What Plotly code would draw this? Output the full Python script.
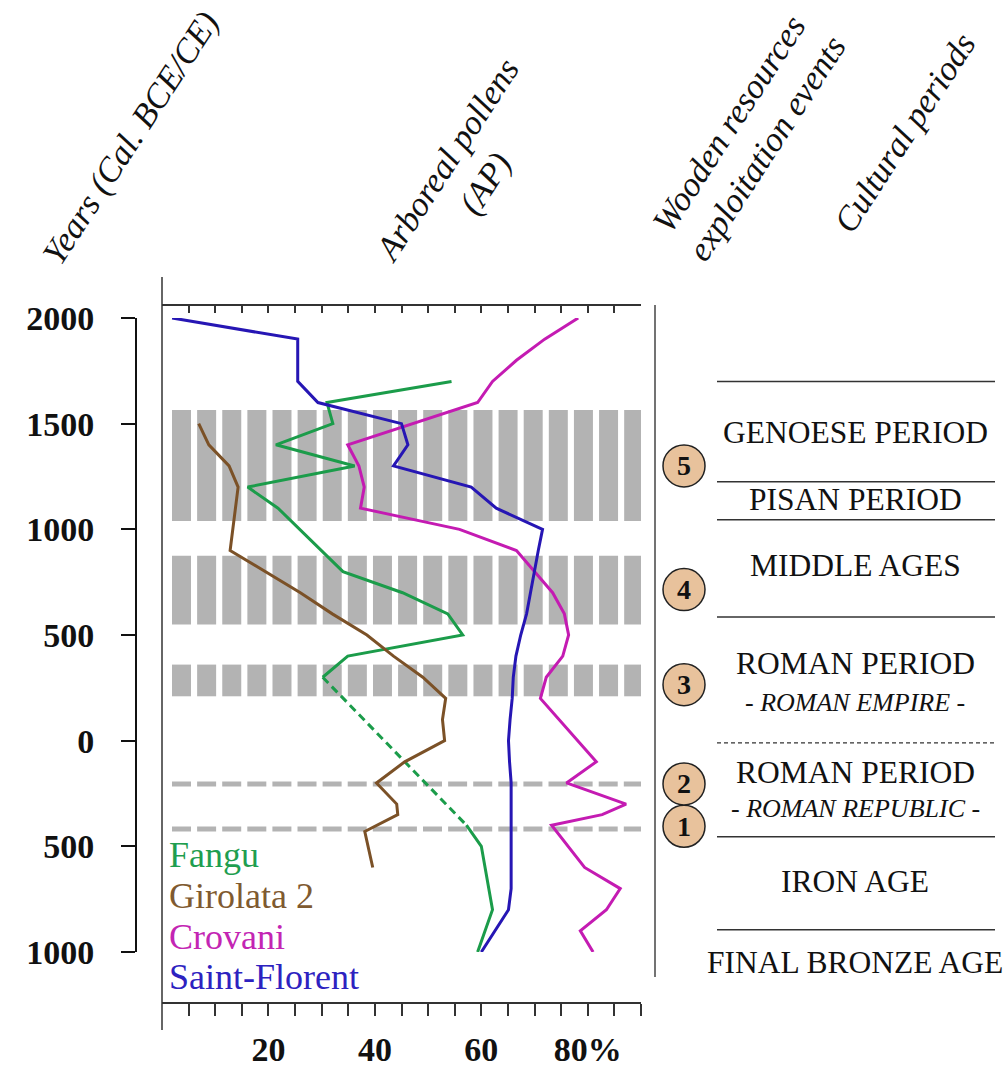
import plotly.graph_objects as go

# ---------------- data ----------------
fangu_years = [1700, 1600, 1500, 1400, 1300, 1200, 1100, 800, 700, 600, 500, 400, 300]
fangu_ap = [54.4, 31.0, 32.1, 21.4, 36.2, 16.1, 21.8, 34.0, 45.2, 53.7, 56.5, 34.9, 30.2]
fangu_gap_years = [300, -400]
fangu_gap_ap = [30.2, 57.2]
fangu_old_years = [-400, -500, -800, -1000]
fangu_old_ap = [57.2, 60.0, 62.1, 59.3]

girolata_years = [1500, 1400, 1300, 1200, 900, 800, 700, 600, 500, 400, 300, 200, 100, 0,
                  -100, -200, -300, -350, -430, -600]
girolata_ap = [6.9, 8.8, 12.6, 14.3, 12.8, 19.3, 26.0, 32.0, 38.5, 43.5, 49.0, 53.3, 52.7, 53.1,
               45.6, 40.3, 44.1, 44.3, 38.1, 39.6]

crovani_years = [2000, 1900, 1800, 1700, 1600, 1400, 1300, 1200, 1100, 1000, 900, 700, 600, 500,
                 400, 300, 200, -100, -200, -300, -350, -400, -600, -700, -800, -900, -1000]
crovani_ap = [78.2, 71.9, 66.6, 62.1, 59.3, 34.9, 37.0, 38.0, 37.3, 55.9, 66.6, 73.4, 75.6, 76.4,
              75.3, 72.2, 71.1, 81.6, 76.0, 87.2, 82.7, 73.2, 79.4, 86.1, 83.5, 78.6, 81.0]

florent_years = [2000, 1900, 1700, 1600, 1500, 1400, 1300, 1200, 1100, 1000, 900, 800, 700, 600,
                 500, 400, 300, 200, 100, 0, -100, -200, -300, -400, -500, -600, -700, -800, -1000]
florent_ap = [1.9, 25.5, 25.5, 29.3, 45.0, 46.2, 43.5, 58.1, 62.8, 71.5, 70.7, 70.0, 69.3, 68.5,
              67.4, 66.5, 66.0, 65.8, 65.4, 65.1, 65.3, 65.6, 65.6, 65.6, 65.6, 65.6, 65.6, 65.1, 60.0]

series_names = ["Fangu", "Girolata 2", "Crovani", "Saint-Florent"]
series_colors = ["#1b9c4a", "#7b5127", "#c41bb2", "#2616b4"]
legend_colors = ["#1f9e50", "#7f5a30", "#c325b3", "#2d22c0"]

# wooden-resource exploitation events
band_ranges = [(1040, 1565), (550, 875), (210, 360)]
event_line_years = [-205, -418]
event_labels = ["1", "2", "3", "4", "5"]
event_years = [-405, -205, 265, 715, 1300]

# cultural periods
period_bounds = [1700, 1225, 1045, 585, -455, -895]
period_dashed_bound = [-10]
period_labels = ["GENOESE PERIOD", "PISAN PERIOD", "MIDDLE AGES", "ROMAN PERIOD",
                 "- <i>ROMAN EMPIRE</i> -", "ROMAN PERIOD", "- <i>ROMAN REPUBLIC</i> -",
                 "IRON AGE", "FINAL BRONZE AGE"]
period_label_py = [432, 500, 565, 663, 702, 772, 808, 882, 962]
period_label_size = [31.5, 31.5, 31.5, 31.5, 26, 31.5, 26, 31.5, 31.5]

year_ticks = [-1000, -500, 0, 500, 1000, 1500, 2000]
year_ticktext = ["1000", "500", "0", "500", "1000", "1500", "2000"]
ap_ticks = [5 * i for i in range(1, 19)]
ap_ticktext = {20: "20", 40: "40", 60: "60", 80: "80%"}

# ---------------- figure ----------------
W, H = 1005, 1069
SERIF = "Liberation Serif, Times New Roman, serif"
def px(x):
    return x / W
def py(y):
    return 1 - y / H

fig = go.Figure()

lw = 3
fig.add_trace(go.Scatter(x=fangu_ap, y=fangu_years, mode="lines",
                         line=dict(color=series_colors[0], width=lw)))
fig.add_trace(go.Scatter(x=fangu_gap_ap, y=fangu_gap_years, mode="lines",
                         line=dict(color=series_colors[0], width=lw, dash="8px,5px")))
fig.add_trace(go.Scatter(x=fangu_old_ap, y=fangu_old_years, mode="lines",
                         line=dict(color=series_colors[0], width=lw)))
fig.add_trace(go.Scatter(x=girolata_ap, y=girolata_years, mode="lines",
                         line=dict(color=series_colors[1], width=lw)))
fig.add_trace(go.Scatter(x=crovani_ap, y=crovani_years, mode="lines",
                         line=dict(color=series_colors[2], width=lw)))
fig.add_trace(go.Scatter(x=florent_ap, y=florent_years, mode="lines",
                         line=dict(color=series_colors[3], width=lw)))
# dummy trace for the top axis
fig.add_trace(go.Scatter(x=[None], y=[None], xaxis="x2", yaxis="y", showlegend=False))

shapes = []
# hatched grey bands
n_bars, bar_x0, bar_pitch, bar_w = 19, 1.88, 4.72, 3.57
for (y0, y1) in band_ranges:
    for k in range(n_bars):
        x0 = bar_x0 + k * bar_pitch
        shapes.append(dict(type="rect", xref="x", yref="y", x0=x0, x1=x0 + bar_w,
                           y0=y0, y1=y1, fillcolor="#b3b3b3", line=dict(width=0),
                           layer="below"))
for yl in event_line_years:
    shapes.append(dict(type="line", xref="x", yref="y", x0=bar_x0, x1=90.5, y0=yl, y1=yl,
                       line=dict(color="#b3b3b3", width=5, dash="19px,6.1px"), layer="below"))

# frame lines
shapes.append(dict(type="line", xref="paper", yref="paper", x0=px(162), x1=px(162),
                   y0=py(277), y1=py(1030), line=dict(color="#333", width=1.5)))
shapes.append(dict(type="line", xref="paper", yref="paper", x0=px(655), x1=px(655),
                   y0=py(305), y1=py(977), line=dict(color="#444", width=1.5)))

# period dividers
for b in period_bounds:
    shapes.append(dict(type="line", xref="paper", yref="y", x0=px(717), x1=px(995), y0=b, y1=b,
                       line=dict(color="#333", width=1.5)))
for b in period_dashed_bound:
    shapes.append(dict(type="line", xref="paper", yref="y", x0=px(717), x1=px(995), y0=b, y1=b,
                       line=dict(color="#333", width=1.2, dash="4px,3px")))

# event circles
for lab, ey in zip(event_labels, event_years):
    shapes.append(dict(type="circle", xref="paper", yref="y", xsizemode="pixel",
                       ysizemode="pixel", xanchor=px(684), yanchor=ey,
                       x0=-21, x1=21, y0=-21, y1=21,
                       fillcolor="#e8c29c", line=dict(color="#222", width=1.5)))

annotations = []
for lab, ey in zip(event_labels, event_years):
    annotations.append(dict(x=px(684), y=ey, xref="paper", yref="y", text="<b>%s</b>" % lab,
                            showarrow=False, font=dict(family=SERIF, size=28, color="#111"),
                            xanchor="center", yanchor="middle"))

for lab, ypix, fs in zip(period_labels, period_label_py, period_label_size):
    annotations.append(dict(x=px(855), y=py(ypix), xref="paper", yref="paper", text=lab,
                            showarrow=False, font=dict(family=SERIF, size=fs, color="#111"),
                            xanchor="center", yanchor="middle"))

legend_py = [855, 896, 937, 977]
for name, col, ypix in zip(series_names, legend_colors, legend_py):
    annotations.append(dict(x=px(167), y=py(ypix), xref="paper", yref="paper", text=name,
                            showarrow=False, font=dict(family=SERIF, size=36, color=col),
                            xanchor="left", yanchor="middle"))

headers = [
    ("<i>Years (Cal. BCE/CE)</i>", 130, 138),
    ("<i>Arboreal pollens<br>(AP)</i>", 466, 172),
    ("<i>Wooden resources<br>exploitation events</i>", 748, 136),
    ("<i>Cultural periods</i>", 904, 133),
]
for txt, hx, hy in headers:
    annotations.append(dict(x=px(hx), y=py(hy), xref="paper", yref="paper", text=txt,
                            showarrow=False, textangle=-57,
                            font=dict(family=SERIF, size=34.5, color="#111"),
                            xanchor="center", yanchor="middle"))

fig.update_layout(
    width=W, height=H, margin=dict(l=0, r=0, t=0, b=0, pad=0, autoexpand=False),
    plot_bgcolor="white", paper_bgcolor="white", showlegend=False,
    shapes=shapes, annotations=annotations,
    xaxis=dict(domain=[px(162), px(641)], range=[0, 90], anchor="free", position=py(1003),
               automargin=False,
               showgrid=False, zeroline=False, showline=True, linecolor="#333", linewidth=1.5,
               ticks="outside", ticklen=12, tickwidth=1.5, tickcolor="#333",
               tickvals=ap_ticks, ticktext=[ap_ticktext.get(v, "") for v in ap_ticks],
               tickfont=dict(family=SERIF, size=34, color="#111", weight="bold"),
               ticklabelstandoff=4),
    xaxis2=dict(domain=[px(162), px(641)], range=[0, 90], overlaying="x", side="top",
                anchor="free", position=py(305), matches="x", automargin=False,
                showgrid=False, zeroline=False, showline=True, linecolor="#333", linewidth=1.5,
                ticks="inside", ticklen=7, tickwidth=1.5, tickcolor="#333",
                tickvals=ap_ticks, showticklabels=False),
    yaxis=dict(domain=[py(952), py(318)], range=[-1000, 2000], anchor="free", position=px(136),
               automargin=False,
               showgrid=False, zeroline=False, showline=True, linecolor="#111", linewidth=2,
               ticks="outside", ticklen=14, tickwidth=2, tickcolor="#111",
               tickvals=year_ticks, ticktext=year_ticktext,
               tickfont=dict(family=SERIF, size=34, color="#111", weight="bold"),
               ticklabelstandoff=20),
)

post = ("document.documentElement.style.margin='0';document.body.style.margin='0';"
        "document.documentElement.style.overflow='hidden';document.body.style.overflow='hidden';"
        "var gd=document.getElementById('{plot_id}');gd.style.position='fixed';"
        "gd.style.left='0px';gd.style.top='0px';")
fig.write_html("out.html", post_script=post, config={"displayModeBar": False})
